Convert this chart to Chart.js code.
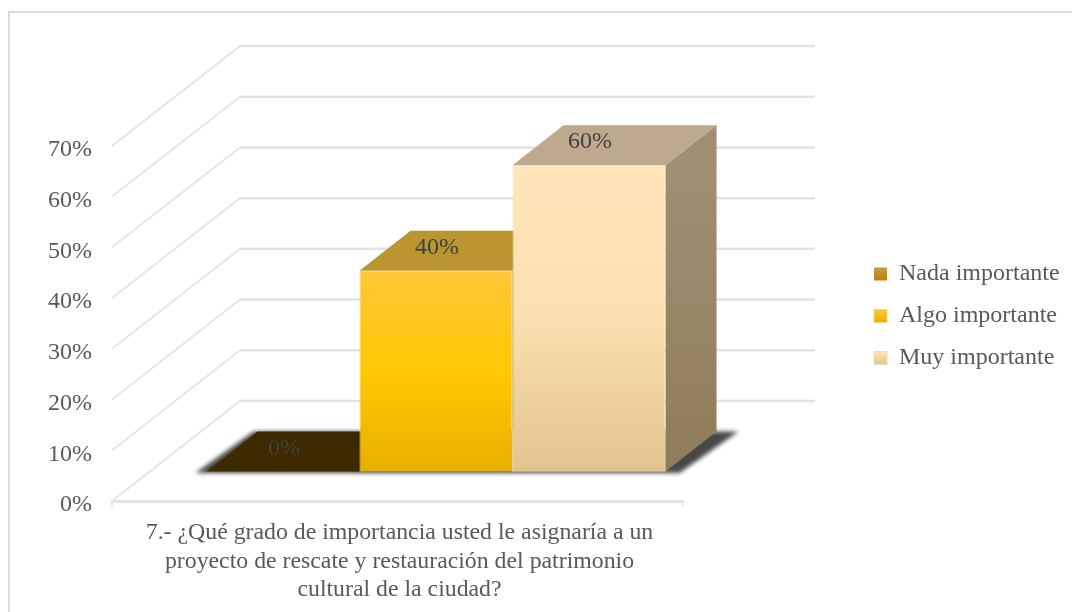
<!DOCTYPE html>
<html lang="es">
<head>
<meta charset="utf-8">
<title>Grado de importancia</title>
<script src="https://cdn.jsdelivr.net/npm/chart.js@4"></script>
<style>
  html, body { margin: 0; padding: 0; background: #fff; overflow: hidden; }
  #frame { position: absolute; left: 8px; top: 11px; width: 1200px; height: 800px; border: 2px solid #dcdcdc; }
  #myChart { position: absolute; left: 0; top: 0; }
</style>
</head>
<body>
<div id="frame"></div>
<canvas id="myChart" width="1072" height="612"></canvas>
<script>
// Chart data
const categories = [[
  '7.- ¿Qué grado de importancia usted le asignaría a un',
  'proyecto de rescate y restauración del patrimonio',
  'cultural de la ciudad?'
]];
const seriesNames = ['Nada importante', 'Algo importante', 'Muy importante'];
const nadaValues = [0];
const algoValues = [39.6];
const muyValues = [60.4];
const yTicks = [0, 10, 20, 30, 40, 50, 60, 70];

// Colours: [front top, front bottom, top face, side top, side bottom]
const nadaColors = ['#c99b42', '#b98500', '#3d2a00', '#3d2a00', '#3d2a00'];
const algoColors = ['#ffc73a', '#e7b000', '#bb9530', '#a08528', '#8f7620'];
const muyColors = ['#ffe5ba', '#e2c490', '#bda98d', '#a08f72', '#8e7c5a'];
const seriesColors = [nadaColors, algoColors, muyColors];
const edgeColors = ['rgba(0,0,0,0)', '#ffd468', '#f5dcae'];

const FONT = '"Liberation Serif", serif';
const TEXT_COLOR = '#595959';

// Fake 3D geometry, in pixels
const wallDepth = { x: 128, y: -100 };
const wallRightExtra = 4;
const barShift = { x: 38.5, y: -29.5 };
const barDepth = { x: 51, y: -40 };
const legendCenterY = 316;

function polygon(ctx, pts, fill) {
  ctx.beginPath();
  pts.forEach(function (p, i) {
    if (i === 0) ctx.moveTo(p[0], p[1]); else ctx.lineTo(p[0], p[1]);
  });
  ctx.closePath();
  ctx.fillStyle = fill;
  ctx.fill();
}

// Front face gradient, follows the bar height
function frontFill(colors) {
  return function (context) {
    const chart = context.chart;
    if (!chart.chartArea) return colors[0];
    const y = chart.scales.y;
    const value = context.dataset.data[0];
    const g = chart.ctx.createLinearGradient(0, y.getPixelForValue(value), 0, y.getPixelForValue(0));
    g.addColorStop(0, colors[0]);
    if (colors === algoColors) g.addColorStop(0.5, '#ffc800');
    if (colors === muyColors) g.addColorStop(0.5, '#fcdfb0');
    g.addColorStop(1, colors[1]);
    return g;
  };
}

const depthPlugin = {
  id: 'depth',
  // the legend sits above the middle of the plot in the original
  afterLayout(chart) {
    const legend = chart.legend;
    const d = (legend.top + legend.bottom) / 2 - legendCenterY;
    legend.top -= d;
    legend.bottom -= d;
    legend.legendHitBoxes.forEach(function (box) { box.top -= d; });
  },
  // legend swatches get their gradient once the layout is known
  beforeDraw(chart) {
    const legend = chart.legend;
    legend.legendItems.forEach(function (item, i) {
      const box = legend.legendHitBoxes[i];
      const top = box.top + (box.height - 13) / 2;
      const g = chart.ctx.createLinearGradient(0, top, 0, top + 13);
      g.addColorStop(0, seriesColors[i][0]);
      g.addColorStop(1, seriesColors[i][1]);
      item.fillStyle = g;
    });
  },
  beforeDatasetsDraw(chart) {
    const ctx = chart.ctx;
    const area = chart.chartArea;
    const yScale = chart.scales.y;

    // side and back wall lines
    ctx.save();
    ctx.strokeStyle = '#e2e2e2';
    yTicks.forEach(function (t) {
      const py = yScale.getPixelForValue(t);
      ctx.lineWidth = 1.6;
      ctx.beginPath();
      ctx.moveTo(area.left, py);
      ctx.lineTo(area.left + wallDepth.x, py + wallDepth.y);
      ctx.stroke();
      ctx.lineWidth = 2.5;
      ctx.beginPath();
      ctx.moveTo(area.left + wallDepth.x, py + wallDepth.y);
      ctx.lineTo(area.right + wallDepth.x + wallRightExtra, py + wallDepth.y);
      ctx.stroke();
    });
    // little end ticks of the floor line
    ctx.lineWidth = 1.5;
    [area.left, area.right].forEach(function (px) {
      ctx.beginPath();
      ctx.moveTo(px, area.bottom);
      ctx.lineTo(px, area.bottom + 5);
      ctx.stroke();
    });
    ctx.restore();

    const metas = chart.getSortedVisibleDatasetMetas();
    const first = metas[0].data[0];
    const last = metas[metas.length - 1].data[0];
    const floorY = first.base + barShift.y;
    const x0 = first.x - first.width / 2 + barShift.x;
    const x1 = last.x + last.width / 2 + barShift.x;

    // blurred floor shadow
    ctx.save();
    ctx.filter = 'blur(2px)';
    polygon(ctx, [
      [x0 - 11, floorY + 1.5], [x1 + 14, floorY + 1.5],
      [x1 + barDepth.x + 22, floorY + barDepth.y],
      [x0 + barDepth.x - 4, floorY + barDepth.y]
    ], 'rgba(40,40,40,0.85)');
    ctx.restore();

    // top and side faces, left to right
    metas.forEach(function (meta, i) {
      const bar = meta.data[0];
      const colors = seriesColors[i];
      const left = bar.x - bar.width / 2 + barShift.x;
      const right = bar.x + bar.width / 2 + barShift.x;
      const top = bar.y + barShift.y;
      const bottom = bar.base + barShift.y;
      polygon(ctx, [
        [left, top], [right, top],
        [right + barDepth.x, top + barDepth.y],
        [left + barDepth.x, top + barDepth.y]
      ], colors[2]);
      if (bottom - top > 1) {
        const g = ctx.createLinearGradient(0, top, 0, bottom);
        g.addColorStop(0, colors[3]);
        g.addColorStop(1, colors[4]);
        polygon(ctx, [
          [right, top], [right + barDepth.x, top + barDepth.y],
          [right + barDepth.x, bottom + barDepth.y], [right, bottom]
        ], g);
      }
    });

    // keeps the shadow from showing through the seams of the front faces
    const seamLeft = metas[1].data[0].x + metas[1].data[0].width / 2 + barShift.x - 1;
    ctx.fillStyle = muyColors[1];
    ctx.fillRect(seamLeft, floorY + barDepth.y - 2, x1 - seamLeft, -barDepth.y + 2);

    // front faces are drawn by the library, moved onto the floor
    ctx.save();
    ctx.translate(barShift.x, barShift.y);
  },
  afterDatasetsDraw(chart) {
    const ctx = chart.ctx;
    ctx.restore();

    // value labels on the top faces
    ctx.save();
    ctx.font = '24px ' + FONT;
    ctx.fillStyle = '#404040';
    ctx.textAlign = 'center';
    ctx.textBaseline = 'middle';
    chart.getSortedVisibleDatasetMetas().forEach(function (meta) {
      const bar = meta.data[0];
      const value = chart.data.datasets[meta.index].data[0];
      ctx.fillText(value.toFixed(0) + '%', bar.x + barShift.x + 1, bar.y + barShift.y - 23);
    });
    ctx.restore();
  }
};

function buildDataset(name, values, colors, edge) {
  return {
    label: name,
    data: values,
    backgroundColor: frontFill(colors),
    borderColor: edge,
    borderWidth: 1,
    clip: false,
    barPercentage: 1,
    categoryPercentage: 0.804
  };
}

const chart = new Chart(document.getElementById('myChart'), {
  type: 'bar',
  data: {
    labels: categories,
    datasets: [
      buildDataset(seriesNames[0], nadaValues, nadaColors, edgeColors[0]),
      buildDataset(seriesNames[1], algoValues, algoColors, edgeColors[1]),
      buildDataset(seriesNames[2], muyValues, muyColors, edgeColors[2])
    ]
  },
  options: {
    responsive: false,
    animation: false,
    layout: { padding: { left: 0, top: 146, right: 10, bottom: 0 } },
    scales: {
      x: {
        grid: { display: false },
        border: { color: '#e3e3e3', width: 3 },
        ticks: {
          color: TEXT_COLOR, padding: 10, labelOffset: 2, maxRotation: 0, autoSkip: false,
          font: { family: FONT, size: 23.8, lineHeight: 1.19 }
        },
        afterFit(scale) { scale.height = 111; }
      },
      y: {
        min: 0,
        max: 70,
        grid: { display: false, drawTicks: false },
        border: { display: false },
        ticks: {
          stepSize: 10, color: TEXT_COLOR, padding: 20, labelOffset: 4,
          font: { family: FONT, size: 24 },
          callback: function (v) { return v + '%'; }
        },
        afterFit(scale) { scale.width = 112; }
      },
      // empty axis, only keeps the gap between the floor and the legend
      gap: {
        type: 'linear',
        position: 'right',
        grid: { display: false },
        border: { display: false },
        ticks: { display: false },
        afterFit(scale) { scale.width = 173; }
      }
    },
    plugins: {
      tooltip: { enabled: false },
      legend: {
        position: 'right',
        maxWidth: 206,
        labels: {
          boxWidth: 13, boxHeight: 13, padding: 18, color: TEXT_COLOR,
          font: { family: FONT, size: 24 }
        }
      }
    }
  },
  plugins: [depthPlugin]
});
</script>
</body>
</html>
